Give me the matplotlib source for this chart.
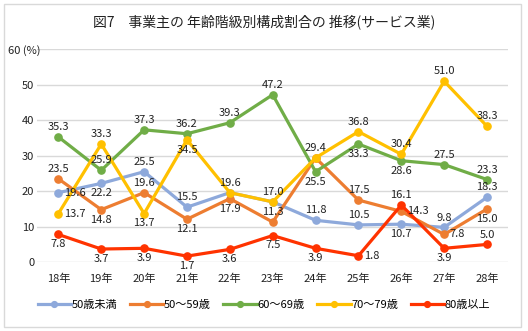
import matplotlib
matplotlib.use("Agg")
import matplotlib.pyplot as plt
from matplotlib.patches import Rectangle

plt.rcParams['font.family'] = ['Noto Sans CJK JP', 'DejaVu Sans']

years = ['18年', '19年', '20年', '21年', '22年', '23年', '24年', '25年', '26年', '27年', '28年']
series_names = ['50歳未満', '50～59歳', '60～69歳', '70～79歳', '80歳以上']
u50 = [19.6, 22.2, 25.5, 15.5, 19.6, 17.0, 11.8, 10.5, 10.7, 9.8, 18.3]
a50 = [23.5, 14.8, 19.6, 12.1, 17.9, 11.3, 29.4, 17.5, 14.3, 7.8, 15.0]
a60 = [35.3, 25.9, 37.3, 36.2, 39.3, 47.2, 25.5, 33.3, 28.6, 27.5, 23.3]
a70 = [13.7, 33.3, 13.7, 34.5, 19.6, 17.0, 29.4, 36.8, 30.4, 51.0, 38.3]
o80 = [7.8, 3.7, 3.9, 1.7, 3.6, 7.5, 3.9, 1.8, 16.1, 3.9, 5.0]
colors = ['#8EA9DB', '#ED7D31', '#70AD47', '#FFC000', '#FF3300']

# label side for each point: a=above, b=below, r=right, n=hidden under an equal label
pos = [
    'rbaannaabaa',
    'ababbanarrb',
    'aaaaaabbbaa',
    'rabbaaaaaaa',
    'bbbbbbbraba',
]

fig = plt.figure(figsize=(5.28, 3.31), dpi=100)
fig.patches.append(Rectangle((0.008, 0.012), 0.978, 0.976, transform=fig.transFigure,
                             fill=False, edgecolor='#D9D9D9', lw=1))
ax = fig.add_axes([0.070, 0.208, 0.893, 0.643])

x = list(range(len(years)))
data = [u50, a50, a60, a70, o80]
for vals, c, name in zip(data, colors, series_names):
    ax.plot(x, vals, color=c, lw=2.3, marker='o', ms=5.2, label=name, zorder=3)

for vals, p in zip(data, pos):
    for i, v in enumerate(vals):
        k = p[i]
        if k == 'n':
            continue
        if k == 'a':
            ax.annotate(f'{v:.1f}', (i, v), xytext=(0, 3.5), textcoords='offset points',
                        ha='center', va='bottom', fontsize=8, color='#222222', zorder=5)
        elif k == 'b':
            ax.annotate(f'{v:.1f}', (i, v), xytext=(0, -3.5), textcoords='offset points',
                        ha='center', va='top', fontsize=8, color='#222222', zorder=5)
        else:
            ax.annotate(f'{v:.1f}', (i, v), xytext=(4, 0), textcoords='offset points',
                        ha='left', va='center', fontsize=8, color='#222222', zorder=5)

ax.set_xlim(-0.5, len(years) - 0.5)
ax.set_ylim(0, 60)
ax.set_yticks(range(0, 61, 10))
ax.set_yticklabels(['0', '10', '20', '30', '40', '50', '60 (%)'])
ax.set_xticks(x)
ax.set_xticklabels(years)
ax.grid(axis='y', color='#D9D9D9', lw=1)
ax.set_axisbelow(True)
for s in ax.spines.values():
    s.set_visible(False)
ax.tick_params(length=0, labelsize=8, colors='#222222')
ax.tick_params(axis='y', pad=2)
ax.tick_params(axis='x', pad=8)
ax.get_yticklabels()[-1].set_horizontalalignment('left')
ax.get_yticklabels()[-1].set_x(-0.055)

fig.text(0.5, 0.935, '図7　事業主の 年齢階級別構成割合の 推移(サービス業)', ha='center', va='center',
         fontsize=10, color='#222222')

fig.legend(loc='center', bbox_to_anchor=(0.5, 0.078), ncol=5, frameon=False, fontsize=8,
           handlelength=3.0, handletextpad=0.05, columnspacing=1.15, markerscale=0.8)

fig.savefig('out.png', dpi=100)
